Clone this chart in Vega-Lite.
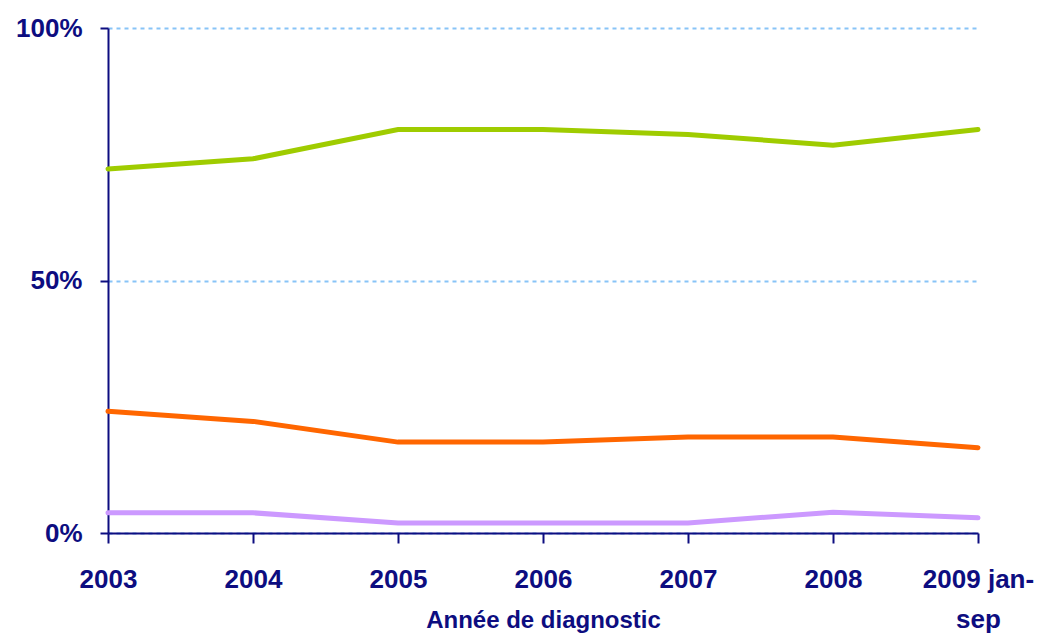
{
  "$schema": "https://vega.github.io/schema/vega-lite/v6.json",
  "autosize": "none",
  "width": 870,
  "height": 505,
  "padding": {"left": 108, "top": 28, "right": 61, "bottom": 102},
  "background": "white",
  "config": {
    "view": {"stroke": null},
    "font": "Liberation Sans"
  },
  "data": {
    "values": [
      {"annee": "2003", "serie": "A", "pct": 72.1},
      {"annee": "2004", "serie": "A", "pct": 74.1},
      {"annee": "2005", "serie": "A", "pct": 79.9},
      {"annee": "2006", "serie": "A", "pct": 79.9},
      {"annee": "2007", "serie": "A", "pct": 78.9},
      {"annee": "2008", "serie": "A", "pct": 76.8},
      {"annee": "2009 jan-sep", "serie": "A", "pct": 79.9},
      {"annee": "2003", "serie": "B", "pct": 24.1},
      {"annee": "2004", "serie": "B", "pct": 22.1},
      {"annee": "2005", "serie": "B", "pct": 18.0},
      {"annee": "2006", "serie": "B", "pct": 18.0},
      {"annee": "2007", "serie": "B", "pct": 19.0},
      {"annee": "2008", "serie": "B", "pct": 19.0},
      {"annee": "2009 jan-sep", "serie": "B", "pct": 16.9},
      {"annee": "2003", "serie": "C", "pct": 4.0},
      {"annee": "2004", "serie": "C", "pct": 4.0},
      {"annee": "2005", "serie": "C", "pct": 2.0},
      {"annee": "2006", "serie": "C", "pct": 2.0},
      {"annee": "2007", "serie": "C", "pct": 2.0},
      {"annee": "2008", "serie": "C", "pct": 4.1},
      {"annee": "2009 jan-sep", "serie": "C", "pct": 3.0}
    ]
  },
  "mark": {"type": "line", "strokeWidth": 5, "strokeCap": "round", "strokeJoin": "miter"},
  "encoding": {
    "x": {
      "field": "annee",
      "type": "ordinal",
      "scale": {"type": "point", "padding": 0},
      "axis": {
        "title": "Année de diagnostic",
        "titleFont": "Liberation Sans",
        "titleFontSize": 24,
        "titleFontWeight": "bold",
        "titleColor": "#0d0d80",
        "titlePadding": -24,
        "labelAngle": 0,
        "labelFont": "Liberation Sans",
        "labelFontSize": 26,
        "labelFontWeight": "bold",
        "labelColor": "#0d0d80",
        "labelPadding": 23,
        "labelLineHeight": 40,
        "labelExpr": "datum.label == '2009 jan-sep' ? ['2009 jan-', 'sep'] : datum.label",
        "domainColor": "#0d0d80",
        "domainWidth": 2,
        "tickColor": "#0d0d80",
        "tickWidth": 2,
        "tickSize": 10,
        "grid": false
      }
    },
    "y": {
      "field": "pct",
      "type": "quantitative",
      "scale": {"domain": [0, 100], "nice": false},
      "axis": {
        "title": null,
        "values": [0, 50, 100],
        "labelExpr": "datum.value + '%'",
        "labelFont": "Liberation Sans",
        "labelFontSize": 26,
        "labelFontWeight": "bold",
        "labelColor": "#0d0d80",
        "labelPadding": 18,
        "domainColor": "#0d0d80",
        "domainWidth": 2,
        "tickColor": "#0d0d80",
        "tickWidth": 2,
        "tickSize": 8,
        "grid": true,
        "gridColor": "#88c4f7",
        "gridDash": [4, 4],
        "gridWidth": 2
      }
    },
    "color": {
      "field": "serie",
      "type": "nominal",
      "scale": {"domain": ["A", "B", "C"], "range": ["#9fcc00", "#ff6600", "#cc99ff"]},
      "legend": null
    }
  }
}
